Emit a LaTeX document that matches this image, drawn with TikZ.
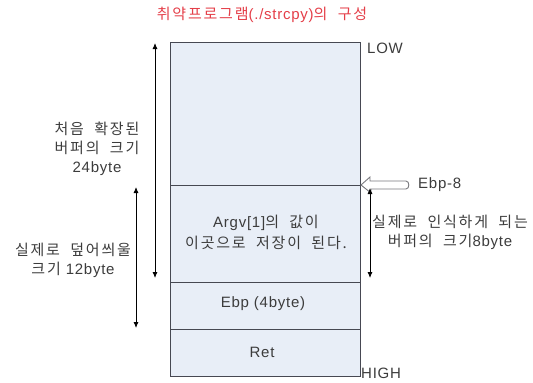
\documentclass[tikz,border=0pt]{standalone}
\usepackage{fontspec}
\setmainfont{Liberation Sans}[LetterSpace=5]
\newfontfamily\ko{Noto Sans CJK KR}[LetterSpace=12, WordSpace=2]
\usetikzlibrary{arrows.meta}
\definecolor{cellfill}{RGB}{232,238,247}
\definecolor{celldraw}{RGB}{70,72,82}
\definecolor{titlered}{RGB}{228,62,72}
\definecolor{txt}{RGB}{60,60,60}
\definecolor{hollow}{RGB}{120,120,125}
\tikzset{
  cell/.style={draw=celldraw, fill=cellfill, line width=1pt, minimum width=190pt, inner sep=0pt, anchor=north west},
  lbl/.style={text=txt, font=\fontsize{15}{20}\selectfont, align=center, inner sep=0pt},
  dim/.style={{Latex[length=6pt,width=5pt]}-{Latex[length=6pt,width=5pt]}, line width=0.8pt, black},
}
\begin{document}
\begin{tikzpicture}[x=1pt,y=-1pt]
\useasboundingbox (0,0) rectangle (533,383);
\node[text=titlered, font=\fontsize{15}{17}\selectfont, inner sep=0pt] (title) at (262,15) {{\ko 취약프로그램}(./strcpy){\ko 의 구성}};
\node[cell, minimum height=143pt] (buf) at (170,42) {};
\node[cell, minimum height=97pt] (argv) at (170,185) {};
\node[cell, minimum height=47pt] (ebp) at (170,282) {};
\node[cell, minimum height=47pt] (ret) at (170,329) {};
\node[lbl, font=\fontsize{15}{21}\selectfont] (argvt) at (266,232) {Argv[1]{\ko 의 값이}\\{\ko 이곳으로 저장이 된다.}};
\node[lbl] (ebpt) at (263,304) {Ebp (4byte)};
\node[lbl] (rett) at (262,352) {Ret};
\node[lbl, anchor=west] (low) at (367,48) {LOW};
\node[lbl, anchor=west] (high) at (361,373) {HIGH};
% left dimension arrows
\coordinate (a1t) at (155,43);
\coordinate (a1b) at (155,278);
\draw[dim] (a1t) -- (a1b);
\coordinate (a2t) at (136,187);
\coordinate (a2b) at (136,328);
\draw[dim] (a2t) -- (a2b);
\node[lbl, font=\fontsize{15}{19}\selectfont] (first) at (97,149) {{\ko 처음 확장된}\\{\ko 버퍼의 크기}\\24byte};
\node[lbl, font=\fontsize{15}{19}\selectfont] (over) at (73,260) {{\ko 실제로 덮어씌울}\\{\ko 크기} 12byte};
% Ebp-8 hollow arrow
\node[lbl, anchor=west] (ebp8) at (418,185) {Ebp-8};
\draw[hollow, line width=0.9pt, fill=white]
  (argv.north east) -- ++(9,-8) -- ++(0,4) -- (406,181) to[out=0,in=0,looseness=1.2] (406,189) -- (371,189) -- ++(0,4) -- cycle;
% right dimension arrow
\coordinate (a3t) at (370,188);
\coordinate (a3b) at (370,278);
\draw[dim] (a3t) -- (a3b);
\node[lbl, font=\fontsize{15}{19}\selectfont] (real) at (450,232) {{\ko 실제로 인식하게 되는}\\{\ko 버퍼의 크기}8byte};
\end{tikzpicture}
\end{document}
